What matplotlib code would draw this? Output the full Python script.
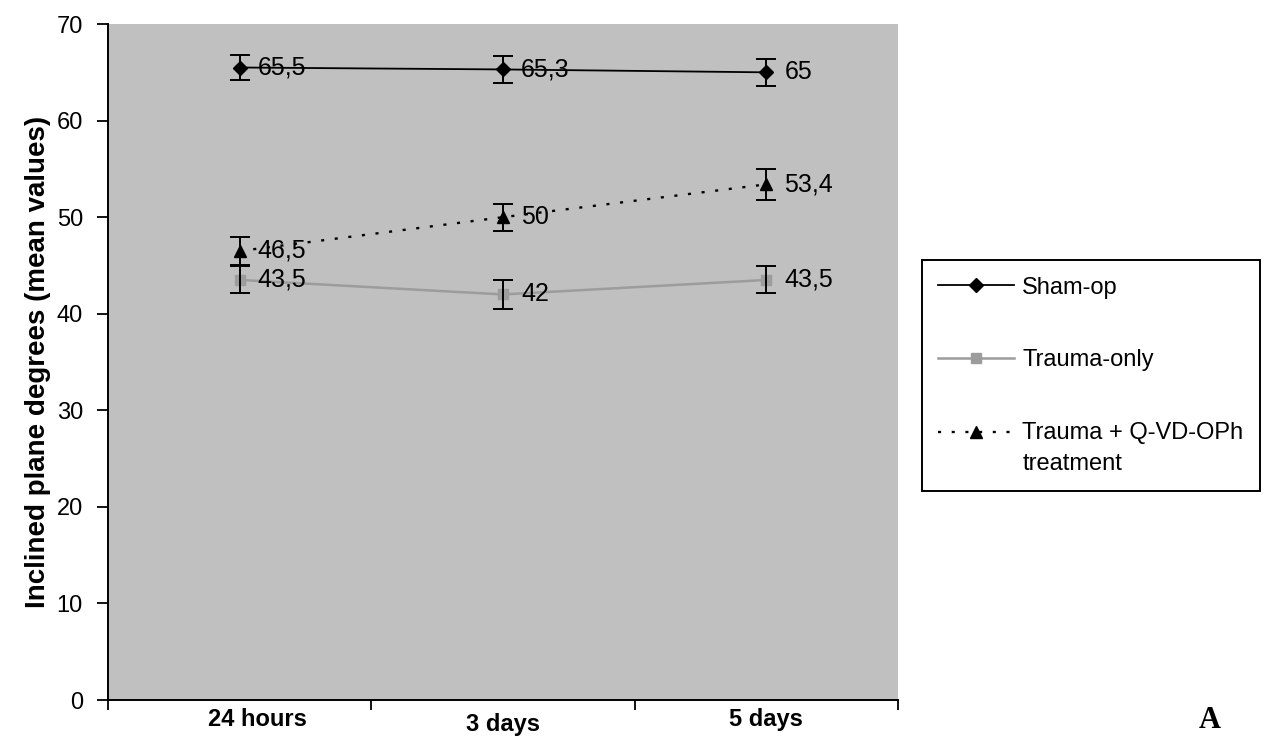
import numpy as np
import matplotlib
matplotlib.use("Agg")
import matplotlib.pyplot as plt
import matplotlib.transforms as mtransforms
from matplotlib.legend_handler import HandlerLine2D

# data
timepoints = ["24 hours", "3 days", "5 days"]
sham = [65.5, 65.3, 65.0]
sham_err = [1.3, 1.4, 1.4]
trauma = [43.5, 42.0, 43.5]
trauma_err = [1.4, 1.5, 1.4]
qvd = [46.5, 50.0, 53.4]
qvd_err = [1.4, 1.4, 1.6]
labels = ["Sham-op", "Trauma-only", "Trauma + Q-VD-OPh\ntreatment"]

plt.rcParams['font.family'] = ['Liberation Sans', 'DejaVu Sans']

LEG_FS = 17


class TopLineHandler(HandlerLine2D):
	# put the legend key next to the first line of a two-line label
	def create_artists(self, legend, orig_handle, xdescent, ydescent, width, height, fontsize, trans):
		arts = super().create_artists(legend, orig_handle, xdescent, ydescent, width, height, fontsize, trans)
		for a in arts:
			a.set_ydata(np.asarray(a.get_ydata(), dtype=float) + 0.72 * fontsize)
		return arts


fig = plt.figure(figsize=(12.72, 7.40), dpi=100)
ax = fig.add_axes([0.0849, 0.054, 0.621, 0.9135])
ax.set_facecolor('#c0c0c0')

x = np.arange(len(timepoints)) + 0.5


def fmt(v):
	s = ('%.1f' % v).rstrip('0').rstrip('.')
	return s.replace('.', ',')


series = [
	(sham, sham_err, dict(color='black', ls='-', marker='D', ms=7, lw=1.3)),
	(trauma, trauma_err, dict(color='#9c9c9c', ls='-', marker='s', ms=7, lw=1.8)),
	(qvd, qvd_err, dict(color='black', ls=(0, (1.3, 4.5)), marker='^', ms=9, lw=1.7)),
]
handles = []
for (vals, err, st), lab in zip(series, labels):
	h, = ax.plot(x, vals, label=lab, zorder=3, **st)
	handles.append(h)
	ax.errorbar(x, vals, yerr=err, fmt='none', ecolor='black', elinewidth=1.4,
				capsize=7, capthick=1.4, zorder=4)
	for xi, v in zip(x, vals):
		ax.annotate(fmt(v), (xi, v), xytext=(13, 0), textcoords='offset points',
					va='center', ha='left', fontsize=18, zorder=5)

ax.set_xlim(0, 3)
ax.set_ylim(0, 70)
ax.set_yticks(np.arange(0, 71, 10))
ax.set_xticks([0, 1, 2, 3])
ax.set_xticklabels([])
ax.set_xticks(x, minor=True)
ax.set_xticklabels(timepoints, minor=True, fontsize=17, fontweight='bold')
ax.tick_params(axis='x', which='minor', length=0, pad=6)
ax.tick_params(axis='x', which='major', length=7, width=1.3, direction='out')
ax.tick_params(axis='y', length=8, width=1.3, direction='out', labelsize=17, pad=10)
for s in ['top', 'right']:
	ax.spines[s].set_visible(False)
for s in ['left', 'bottom']:
	ax.spines[s].set_linewidth(1.4)
ax.set_ylabel('Inclined plane degrees (mean values)', fontsize=20, fontweight='bold', labelpad=4)

# the category labels in the original sit a little off their slots
for lbl, (dx, dy) in zip(ax.get_xticklabels(minor=True), [(18, 0), (0, -5), (0, 0)]):
	lbl.set_transform(lbl.get_transform() + mtransforms.ScaledTranslation(dx / 100, dy / 100, fig.dpi_scale_trans))

leg = fig.legend(handles=handles, loc='upper left', bbox_to_anchor=(0.7248, 0.6486),
				 fontsize=LEG_FS, frameon=True, fancybox=False, edgecolor='black',
				 framealpha=1, handlelength=3.2, labelspacing=2.15, borderpad=0.7,
				 handletextpad=0.35, borderaxespad=0,
				 handler_map={handles[2]: TopLineHandler()})
leg.get_frame().set_linewidth(1.4)
leg.get_texts()[2].set_linespacing(1.5)

fig.text(0.951, 0.027, 'A', fontsize=22, fontweight='bold', family='Liberation Serif',
		 ha='center', va='center')

fig.savefig('out.png', dpi=100)
